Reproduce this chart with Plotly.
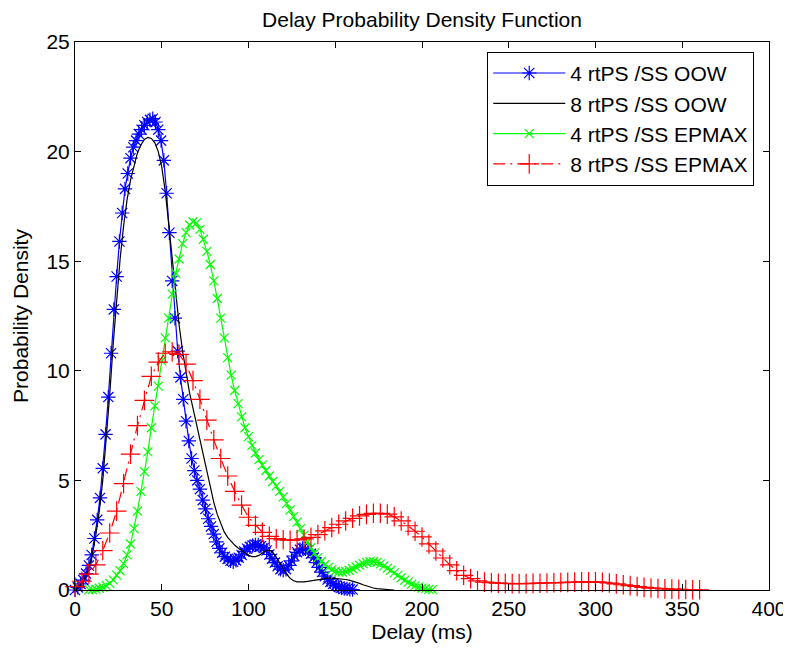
import plotly.graph_objects as go

# ---------------- data ----------------
# 4 rtPS /SS OOW (blue, asterisk markers)
x_oow4 = [0.0, 1.6, 3.2, 4.8, 6.4, 8.0, 9.6, 11.2, 12.8, 14.4, 16.0, 17.6, 19.2, 20.8, 22.4, 24.0,
          25.6, 27.2, 28.8, 30.4, 32.0, 33.6, 35.2, 36.8, 38.4, 40.0, 41.6, 43.2, 44.8, 46.4, 48.0,
          49.6, 51.2, 52.8, 54.4, 56.0, 57.6, 59.2, 60.8, 62.4, 64.0, 65.6, 67.2, 68.8, 70.4, 72.0,
          73.6, 75.2, 76.8, 78.4, 80.0, 81.6, 83.2, 84.8, 86.4, 88.0, 89.6, 91.2, 92.8, 94.4, 96.0,
          97.6, 99.2, 100.8, 102.4, 104.0, 105.6, 107.2, 108.8, 110.4, 112.0, 113.6, 115.2, 116.8,
          118.4, 120.0, 121.6, 123.2, 124.8, 126.4, 128.0, 129.6, 131.2, 132.8, 134.4, 136.0, 137.6,
          139.2, 140.8, 142.4, 144.0, 145.6, 147.2, 148.8, 150.4, 152.0, 153.6, 155.2, 156.8, 158.4,
          160.0]
y_oow4 = [0.0, 0.12, 0.28, 0.45, 0.75, 1.12, 1.6, 2.35, 3.2, 4.2, 5.55, 7.1, 8.8, 10.8, 12.8, 14.3,
          15.9, 17.2, 18.3, 19.0, 19.7, 20.2, 20.5, 20.8, 21.0, 21.2, 21.35, 21.45, 21.5, 21.35, 21.0,
          20.5, 19.6, 18.1, 16.3, 14.1, 12.4, 10.9, 9.7, 8.7, 7.7, 6.8, 6.0, 5.45, 5.0, 4.6,
          4.1, 3.7, 3.25, 2.9, 2.55, 2.2, 1.9, 1.7, 1.52, 1.42, 1.33, 1.29, 1.35, 1.47, 1.6,
          1.75, 1.88, 1.97, 2.03, 2.06, 2.05, 2.0, 1.92, 1.8, 1.62, 1.43, 1.25, 1.08,
          0.95, 0.9, 0.95, 1.12, 1.33, 1.55, 1.72, 1.84, 1.9, 1.88, 1.8, 1.65, 1.48,
          1.25, 1.03, 0.82, 0.63, 0.48, 0.37, 0.28, 0.2, 0.14, 0.1, 0.07, 0.05, 0.03,
          0.02]

# 8 rtPS /SS OOW (black solid line)
x_oow8 = [0, 2, 4, 6, 8, 10, 12, 14, 16, 18, 20, 22, 24, 26, 28, 30, 32, 34, 36, 38, 40, 42, 44,
          46, 48, 50, 52, 54, 56, 58, 60, 62, 64, 66, 68, 70, 72, 74, 76, 78, 80, 82, 84, 86, 88,
          90, 92, 94, 96, 98, 100, 102, 104, 106, 108, 110, 112, 114, 116, 118, 120, 122, 124, 126,
          128, 130, 132, 134, 136, 138, 140, 142, 144, 146, 148, 150, 152, 154, 156, 158, 160, 162,
          164, 166, 168, 170, 172, 174, 176, 178, 180, 182, 184]
y_oow8 = [0.0, 0.1, 0.3, 0.6, 1.0, 1.6, 2.5, 3.6, 5.0, 6.8, 8.9, 11.2, 13.3, 15.1, 16.6, 17.8, 18.7,
          19.4, 19.95, 20.3, 20.55, 20.65, 20.6, 20.4, 20.0, 19.3, 18.2, 16.7, 15.2, 13.5, 12.1,
          10.9, 9.9, 9.0, 8.3, 7.6, 6.85, 6.1, 5.35, 4.65, 4.0, 3.45, 3.0, 2.65, 2.4, 2.2, 2.05,
          1.92, 1.8, 1.68, 1.58, 1.52, 1.52, 1.58, 1.7, 1.8, 1.82, 1.72, 1.5, 1.22, 0.95, 0.72,
          0.53, 0.42, 0.37, 0.36, 0.37, 0.39, 0.42, 0.45, 0.48, 0.51, 0.53, 0.54, 0.54, 0.53, 0.52,
          0.5, 0.48, 0.45, 0.41, 0.36, 0.3, 0.24, 0.18, 0.13, 0.09, 0.06, 0.04, 0.03, 0.02, 0.01,
          0.0]

# 4 rtPS /SS EPMAX (green, x markers)
x_ep4 = [8, 10, 12, 14, 16, 18, 20, 22, 24, 26, 28, 30, 32, 34, 36, 38, 40, 42, 44, 46, 48, 50, 52,
         54, 56, 58, 60, 62, 64, 66, 68, 70, 72, 74, 76, 78, 80, 82, 84, 86, 88, 90, 92, 94, 96,
         98, 100, 102, 104, 106, 108, 110, 112, 114, 116, 118, 120, 122, 124, 126, 128, 130, 132,
         134, 136, 138, 140, 142, 144, 146, 148, 150, 152, 154, 156, 158, 160, 162, 164, 166, 168,
         170, 172, 174, 176, 178, 180, 182, 184, 186, 188, 190, 192, 194, 196, 198, 200, 202, 204,
         206]
y_ep4 = [0.01, 0.02, 0.04, 0.08, 0.13, 0.2, 0.3, 0.46, 0.68, 0.88, 1.2, 1.6, 2.1, 2.8, 3.6, 4.5,
         5.4, 6.3, 7.4, 8.4, 9.3, 10.45, 11.5, 12.4, 13.5, 14.45, 15.1, 15.8, 16.3, 16.65, 16.8,
         16.75, 16.45, 16.0, 15.45, 14.85, 14.1, 13.3, 12.4, 11.5, 10.6, 9.8, 9.1, 8.5, 7.9,
         7.4, 7.0, 6.6, 6.25, 5.95, 5.7, 5.45, 5.2, 4.95, 4.75, 4.5, 4.25, 3.95, 3.65, 3.35, 3.1,
         2.8, 2.5, 2.2, 1.93, 1.68, 1.48, 1.3, 1.15, 1.03, 0.93, 0.86, 0.82, 0.82, 0.85, 0.9,
         0.97, 1.05, 1.13, 1.2, 1.26, 1.3, 1.3, 1.26, 1.19, 1.1, 1.0, 0.9, 0.78, 0.67, 0.56,
         0.45, 0.36, 0.27, 0.2, 0.14, 0.09, 0.06, 0.03, 0.02]

# 8 rtPS /SS EPMAX (red, dash-dot with + markers)
x_ep8 = [0, 4, 8, 12, 16, 20, 24, 28, 32, 36, 40, 44, 48, 52, 56, 60, 64, 68, 72, 76, 80, 84, 88,
         92, 96, 100, 104, 108, 112, 116, 120, 124, 128, 132, 136, 140, 144, 148, 152, 156, 160,
         164, 168, 172, 176, 180, 184, 188, 192, 196, 200, 204, 208, 212, 216, 220, 224, 228, 232,
         236, 240, 244, 248, 252, 256, 260, 264, 268, 272, 276, 280, 284, 288, 292, 296, 300, 304,
         308, 312, 316, 320, 324, 328, 332, 336, 340, 344, 348, 352, 356, 360]
y_ep8 = [0.15, 0.4, 0.72, 1.15, 1.8, 2.6, 3.6, 4.85, 6.2, 7.5, 8.65, 9.75, 10.4, 10.8, 10.87,
         10.75, 10.3, 9.55, 8.7, 7.75, 6.85, 6.0, 5.2, 4.5, 3.87, 3.32, 2.95, 2.63, 2.45, 2.34,
         2.29, 2.27, 2.29, 2.33, 2.4, 2.53, 2.7, 2.85, 3.0, 3.15, 3.27, 3.38, 3.45, 3.5, 3.5,
         3.46, 3.34, 3.15, 2.93, 2.68, 2.42, 2.1, 1.78, 1.46, 1.15, 0.88, 0.67, 0.52, 0.42, 0.36,
         0.33, 0.31, 0.3, 0.29, 0.29, 0.29, 0.3, 0.31, 0.32, 0.33, 0.34, 0.35, 0.36, 0.37, 0.37,
         0.37, 0.35, 0.32, 0.28, 0.24, 0.2, 0.16, 0.12, 0.09, 0.07, 0.05, 0.04, 0.03, 0.02, 0.01,
         0.01]

series_names = ["4 rtPS /SS OOW", "8 rtPS /SS OOW", "4 rtPS /SS EPMAX", "8 rtPS /SS EPMAX"]
x_ticks = [0, 50, 100, 150, 200, 250, 300, 350, 400]
y_ticks = [0, 5, 10, 15, 20, 25]

FONT = "Liberation Sans, Arial, Helvetica, sans-serif"
FS = 21

# The page body has an 8px default margin, so the figure is 8px smaller
# in each direction and the margins are shifted accordingly.
W, H = 783, 641

fig = go.Figure()
fig.add_trace(go.Scatter(
    x=x_oow4, y=y_oow4, name=series_names[0], mode="lines+markers",
    line=dict(color="#0000FF", width=1.2),
    marker=dict(symbol="asterisk-open", size=12, color="#0000FF",
                line=dict(color="#0000FF", width=1.2)),
    cliponaxis=False))
fig.add_trace(go.Scatter(
    x=x_oow8, y=y_oow8, name=series_names[1], mode="lines",
    line=dict(color="#000000", width=1.2),
    cliponaxis=False))
fig.add_trace(go.Scatter(
    x=x_ep4, y=y_ep4, name=series_names[2], mode="lines+markers",
    line=dict(color="#00FF00", width=1.2),
    marker=dict(symbol="x-thin-open", size=9, color="#00FF00",
                line=dict(color="#00FF00", width=1.2)),
    cliponaxis=False))
fig.add_trace(go.Scatter(
    x=x_ep8, y=y_ep8, name=series_names[3], mode="lines+markers",
    line=dict(color="#FF0000", width=1.2, dash="12px,5px,2px,5px"),
    marker=dict(symbol="cross-thin-open", size=14, color="#FF0000",
                line=dict(color="#FF0000", width=1.2)),
    cliponaxis=False))

axis_common = dict(
    showgrid=False, zeroline=False, showline=True, linecolor="black", linewidth=1,
    mirror="ticks", ticks="inside", ticklen=6, tickcolor="black", tickwidth=1,
    tickfont=dict(family=FONT, size=FS, color="black"), automargin=False,
)

fig.update_layout(
    template="none",
    width=W, height=H,
    margin=dict(l=67, r=22, t=34, b=59, autoexpand=False),
    paper_bgcolor="white", plot_bgcolor="white",
    font=dict(family=FONT, color="black"),
    title=dict(text="Delay Probability Density Function", x=0.5, xref="paper",
               y=1 - 12 / H, yref="container", yanchor="middle", xanchor="center",
               automargin=False,
               font=dict(family=FONT, size=FS, color="black")),
    xaxis=dict(range=[0, 400], tickvals=x_ticks,
               title=dict(text="Delay (ms)", font=dict(family=FONT, size=FS), standoff=4),
               **axis_common),
    yaxis=dict(range=[0, 25], tickvals=y_ticks,
               title=dict(text="Probability Density", font=dict(family=FONT, size=FS), standoff=12),
               **axis_common),
    legend=dict(x=0.594, y=0.982, xanchor="left", yanchor="top",
                bgcolor="white", bordercolor="black", borderwidth=1,
                font=dict(family=FONT, size=FS, color="black"),
                itemwidth=72, tracegroupgap=0),
    showlegend=True,
)

fig.write_html("out.html")
